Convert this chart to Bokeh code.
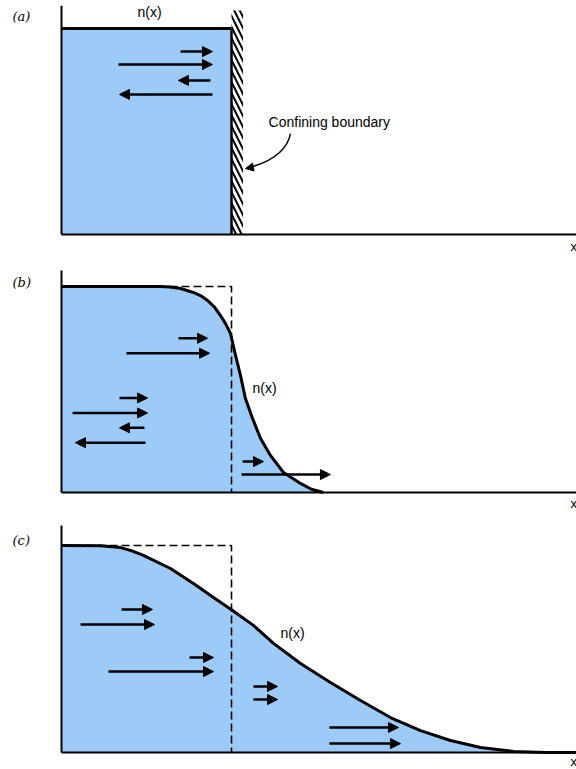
from bokeh.plotting import figure
from bokeh.layouts import column
from bokeh.models import Range1d, Arrow, NormalHead, ColumnDataSource
from bokeh.embed import file_html
from bokeh.resources import INLINE
from bokeh.core.properties import value

# ---------------- data (x in units of the boundary position, n relative to initial level) ----
boundary_x = 1.0

# (a) confined gas: uniform density up to the wall
a_x = [0.0, 1.0]
a_n = [1.0, 1.0]

# (b) shortly after the wall is removed
b_x = [0.0, 0.582, 0.640, 0.700, 0.776, 0.820, 0.859, 0.900, 0.935, 0.965, 0.994,
       1.024, 1.053, 1.082, 1.124, 1.171, 1.229, 1.306, 1.406, 1.470, 1.541]
b_n = [1.0, 1.0, 0.998, 0.990, 0.971, 0.955, 0.932, 0.900, 0.859, 0.820, 0.772,
       0.665, 0.568, 0.456, 0.359, 0.262, 0.180, 0.097, 0.044, 0.016, 0.0]

# (c) later: profile has spread further
c_x = [0.0, 0.230, 0.347, 0.410, 0.482, 0.641, 0.776, 0.894, 1.006, 1.129, 1.247,
       1.406, 1.582, 1.759, 1.935, 2.112, 2.288, 2.465, 2.659, 2.850]
c_n = [1.0, 0.999, 0.990, 0.975, 0.952, 0.889, 0.816, 0.749, 0.686, 0.614, 0.527,
       0.430, 0.338, 0.251, 0.169, 0.106, 0.058, 0.024, 0.005, 0.0]

# particle velocity arrows: start x, end x (head), height
a_arrow_start = [0.700, 0.335, 0.876, 0.888]
a_arrow_end = [0.888, 0.888, 0.688, 0.341]
a_arrow_n = [0.888, 0.825, 0.748, 0.680]

b_arrow_start = [0.688, 0.382, 0.341, 0.065, 0.488, 0.494, 1.065, 1.059]
b_arrow_end = [0.859, 0.871, 0.506, 0.506, 0.341, 0.082, 1.188, 1.582]
b_arrow_n = [0.749, 0.676, 0.459, 0.386, 0.314, 0.242, 0.150, 0.087]

c_arrow_start = [0.353, 0.112, 0.753, 0.276, 1.129, 1.129, 1.576, 1.576]
c_arrow_end = [0.535, 0.547, 0.894, 0.894, 1.271, 1.271, 1.982, 1.994]
c_arrow_n = [0.691, 0.618, 0.459, 0.391, 0.319, 0.256, 0.121, 0.043]

panel_labels = ["(a)", "(b)", "(c)"]
curve_label = "n(x)"
axis_label = "x"
wall_label = "Confining boundary"

FILL = "#9dcbf8"
W = 576
X0, X1 = -61 / 170, 515 / 170


def make_panel(h, y0, y1, xs, ns, arrows, label, label_y, nlab_xy, axis_top, dashed):
    p = figure(width=W, height=h, output_backend="svg", toolbar_location=None,
               x_range=Range1d(X0, X1), y_range=Range1d(y0, y1),
               min_border=0, min_border_left=0, min_border_right=0,
               min_border_top=0, min_border_bottom=0)
    p.axis.visible = False
    p.grid.visible = False
    p.outline_line_color = None
    p.background_fill_color = "white"

    # filled density profile
    p.varea(x=xs, y1=[0] * len(xs), y2=ns, fill_color=FILL)
    if dashed:
        p.line(x=[0, boundary_x, boundary_x], y=[1, 1, 0], line_color="black",
               line_width=1.6, line_dash="8 4")
    p.line(x=xs, y=ns, line_color="black", line_width=3, line_join="round")

    # axes
    p.line(x=[0, 0], y=[0, axis_top], line_color="black", line_width=2)
    p.line(x=[0, X1], y=[0, 0], line_color="black", line_width=2)

    xs_, xe_, n_ = arrows
    src = ColumnDataSource(dict(xs=xs_, xe=xe_, n=n_))
    p.add_layout(Arrow(x_start="xs", y_start="n", x_end="xe", y_end="n", source=src,
                       line_width=2.5, line_color="black",
                       end=NormalHead(size=10, fill_color="black", line_color="black",
                                      line_width=1)))

    p.text(x=[-0.288], y=[label_y], text=[label], text_font=value("DejaVu Serif"),
           text_font_style="italic", text_font_size="13px", text_baseline="middle",
           text_align="left")
    p.text(x=[nlab_xy[0]], y=[nlab_xy[1]], text=[curve_label],
           text_font=value("Liberation Sans"), text_font_size="14px",
           text_baseline="middle", text_align=nlab_xy[2])
    p.text(x=[(570 - 61) / 170], y=[y0 + (0 - y0) * 0.45], text=[axis_label],
           text_font=value("Liberation Sans"), text_font_size="13px",
           text_baseline="middle", text_align="left")
    return p


pa = make_panel(256, (234 - 256) / 206, 234 / 206, a_x, a_n,
                (a_arrow_start, a_arrow_end, a_arrow_n), panel_labels[0], 1.058,
                (0.518, 1.078, "center"), 1.11, False)
# the wall
pa.quad(left=[boundary_x], right=[boundary_x + 0.068], bottom=[0], top=[1.087],
        fill_alpha=0, line_color=None, hatch_pattern="\\", hatch_color="black",
        hatch_scale=11, hatch_weight=2)
pa.line(x=[boundary_x, boundary_x], y=[0, 1.0], line_color="black", line_width=2.5)
pa.text(x=[1.218], y=[0.544], text=[wall_label], text_font=value("Liberation Sans"),
        text_font_size="14px", text_baseline="middle", text_align="left")
pa.quadratic(x0=[1.347], y0=[0.490], x1=[1.090], y1=[0.322], cx=[1.318], cy=[0.370],
             line_color="black", line_width=1.5)
pa.add_layout(Arrow(x_start=1.12, y_start=0.326, x_end=1.082, y_end=0.320,
                    line_alpha=0, end=NormalHead(size=8, fill_color="black",
                                                 line_color="black")))

pb = make_panel(256, (236 - 256) / 206, 236 / 206, b_x, b_n,
                (b_arrow_start, b_arrow_end, b_arrow_n), panel_labels[1], 1.019,
                (1.124, 0.505, "left"), 1.078, True)
pc = make_panel(257, (240 - 257) / 207, 240 / 207, c_x + [X1], c_n + [0.0],
                (c_arrow_start, c_arrow_end, c_arrow_n), panel_labels[2], 1.024,
                (1.288, 0.575, "left"), 1.097, True)

layout = column(pa, pb, pc, spacing=0)
open("out.html", "w").write(file_html(layout, INLINE))
